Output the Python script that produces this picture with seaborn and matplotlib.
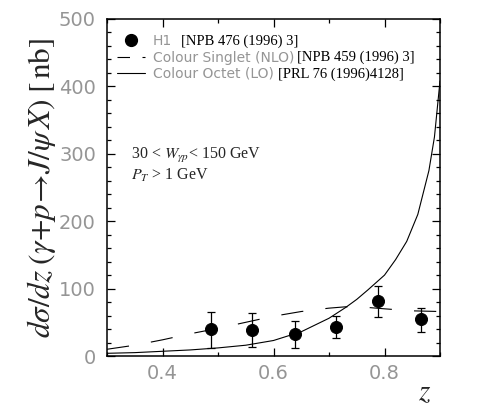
import numpy as np
import pandas as pd
import matplotlib
matplotlib.use("Agg")
import matplotlib.pyplot as plt
from matplotlib.lines import Line2D
from matplotlib.ticker import MultipleLocator
import seaborn as sns

# ---- data ----
h1_z = [0.487, 0.562, 0.638, 0.713, 0.789, 0.865]
h1_val = [40, 38, 33, 43, 81, 55]
h1_err_lo = [28, 24, 21, 16, 23, 20]
h1_err_hi = [26, 26, 19, 16, 23, 16]

singlet_z = [0.30, 0.35, 0.40, 0.45, 0.50, 0.55, 0.60, 0.65, 0.70, 0.73, 0.77, 0.80, 0.85, 0.90]
singlet_val = [10, 16, 24, 33, 41, 50, 59, 66, 71, 73, 72, 70, 67, 66]

octet_z = [0.30, 0.35, 0.40, 0.45, 0.50, 0.55, 0.60, 0.65, 0.68, 0.70, 0.73, 0.75,
           0.77, 0.80, 0.82, 0.84, 0.86, 0.88, 0.89, 0.90]
octet_val = [4, 5, 7, 9, 12, 16, 23, 36, 48, 56, 72, 84, 98, 120, 143, 170, 210,
             275, 325, 408]

legend_labels = ["H1", "Colour Singlet (NLO)", "Colour Octet (LO)"]
legend_refs = ["[NPB 476 (1996) 3]", "[NPB 459 (1996) 3]", "[PRL 76 (1996)4128]"]
x_ticks = [0.4, 0.6, 0.8]
y_ticks = [0, 100, 200, 300, 400, 500]

# ---- style ----
sns.set_style("ticks")
plt.rcParams["font.family"] = ["DejaVu Sans"]
plt.rcParams["mathtext.fontset"] = "stix"
plt.rcParams["lines.scale_dashes"] = False

GRAY = "#959595"
SERIF = "Liberation Serif"

fig = plt.figure(figsize=(4.78, 4.07), dpi=100)
ax = fig.add_axes([107 / 478, 1 - 356 / 407, 333 / 478, 337 / 407])

df_s = pd.DataFrame({"z": singlet_z, "v": singlet_val})
df_o = pd.DataFrame({"z": octet_z, "v": octet_val})
df_h = pd.DataFrame({"z": h1_z, "v": h1_val})

sns.lineplot(data=df_s, x="z", y="v", ax=ax, color="black", lw=0.8,
             linestyle=(0, (16, 16)), label="_s")
sns.lineplot(data=df_o, x="z", y="v", ax=ax, color="black", lw=0.8, label="_o")
ax.errorbar(h1_z, h1_val, yerr=[h1_err_lo, h1_err_hi], fmt="none", ecolor="black",
            elinewidth=0.9, capsize=3, capthick=0.9, zorder=3)
sns.scatterplot(data=df_h, x="z", y="v", ax=ax, color="black", s=75,
                edgecolor="black", zorder=4, label="_h")

ax.set_xlim(0.3, 0.9)
ax.set_ylim(0, 500)
ax.set_xticks(x_ticks)
ax.set_yticks(y_ticks)
ax.xaxis.set_minor_locator(MultipleLocator(0.1))
ax.yaxis.set_minor_locator(MultipleLocator(20))
ax.tick_params(which="both", direction="in", top=True, right=True, width=0.9,
               colors="black", labelcolor=GRAY, labelsize=14)
ax.tick_params(which="major", length=6)
ax.tick_params(which="minor", length=3)
ax.tick_params(axis="y", pad=8)
ax.tick_params(axis="x", pad=6)
for sp in ax.spines.values():
    sp.set_visible(True)
    sp.set_linewidth(1.1)
    sp.set_color("black")

ax.set_xlabel("$z$", fontsize=21)
ax.xaxis.set_label_coords((425 - 107) / 333, -0.065)
ax.set_ylabel(r"$d\sigma/dz\;(\gamma{+}p\!\rightarrow\! J/\psi\, X)\;[\,\mathrm{nb}]$",
              fontsize=22.5)
ax.yaxis.set_label_coords(-0.147, 0.5)

# legend
handles = [
    Line2D([], [], marker="o", ls="", color="black", markersize=8.5),
    Line2D([], [], color="black", lw=0.8, linestyle=(0, (9, 9))),
    Line2D([], [], color="black", lw=0.8),
]
leg = ax.legend(handles, legend_labels, loc="upper left",
                bbox_to_anchor=(10 / 333, 0.955), borderaxespad=0, borderpad=0,
                frameon=False, fontsize=10, handlelength=2.0, handletextpad=0.6,
                labelspacing=0.17, labelcolor=GRAY)

fig.canvas.draw()
renderer = fig.canvas.get_renderer()
inv = ax.transAxes.inverted()
gaps = [9, 3, 4]
for txt, ref, gap in zip(leg.get_texts(), legend_refs, gaps):
    bb = txt.get_window_extent(renderer)
    x1, yc = inv.transform((bb.x1 + gap, (bb.y0 + bb.y1) / 2))
    ax.text(x1, yc, ref, transform=ax.transAxes, va="center", ha="left",
            fontsize=10.5, family=SERIF, color="black")

ax.text(0.072, 0.596, r"30 < $W_{\gamma p}$< 150 GeV", transform=ax.transAxes,
        fontsize=11.5, family=SERIF, va="center", ha="left")
ax.text(0.072, 0.537, r"$P_T$ > 1 GeV", transform=ax.transAxes,
        fontsize=11.5, family=SERIF, va="center", ha="left")

fig.savefig("out.png", dpi=100)
